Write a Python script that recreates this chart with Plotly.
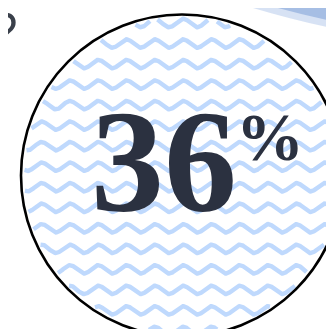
import numpy as np
import plotly.graph_objects as go

# ---- data ----
value = [36]
suffix = ["%"]
corner_mark = ["?"]

W, H = 334, 329
cx, cy, r = 174, 167.5, 161

# decorative wave pattern clipped to the circle
period = 28.3
amp = 4.2
row_gap = 20.53
row0 = 15.0
phase_x = 62.0

xs, ys = [], []
xgrid = np.arange(0, W + 1, 0.5)
y_row = row0
while y_row < H + 10:
    yv = y_row - amp * np.cos(2 * np.pi * (xgrid - phase_x) / period)
    inside = (xgrid - cx) ** 2 + (yv - cy) ** 2 <= (r - 3) ** 2
    for xv, yy, ok in zip(xgrid, yv, inside):
        if ok:
            xs.append(float(xv)); ys.append(float(yy))
        else:
            if xs and xs[-1] is not None:
                xs.append(None); ys.append(None)
    xs.append(None); ys.append(None)
    y_row += row_gap

fig = go.Figure()
fig.add_trace(go.Scatter(x=xs, y=ys, mode="lines",
                         line=dict(color="#BFD9FD", width=4.4),
                         hoverinfo="skip", showlegend=False))

# top-right blurred blue stroke
fig.add_shape(type="path", path="M 245 0 L 334 0 L 334 22 Q 292 14 245 0 Z",
              fillcolor="rgba(175,198,234,0.5)", line=dict(width=0), layer="below")
fig.add_shape(type="path", path="M 270 0 L 334 0 L 334 15 Q 303 9 270 0 Z",
              fillcolor="rgba(140,170,220,0.65)", line=dict(width=0), layer="below")

fig.add_shape(type="circle", x0=cx - r, x1=cx + r, y0=cy - r, y1=cy + r,
              line=dict(color="#000000", width=2.6), fillcolor="rgba(0,0,0,0)")

fig.add_annotation(x=156, y=154, text=str(value[0]), showarrow=False,
                   xanchor="center", yanchor="middle",
                   font=dict(family="Liberation Serif", size=146, color="#2B3140", weight="bold"))
fig.add_annotation(x=262, y=129, text=suffix[0], showarrow=False,
                   xanchor="center", yanchor="middle",
                   font=dict(family="Liberation Serif", size=68, color="#2B3140", weight="bold"))
fig.add_annotation(x=11, y=24, text=corner_mark[0], showarrow=False,
                   xanchor="right", yanchor="middle",
                   font=dict(family="Open Sans", size=56, color="#3A404B"))

fig.update_xaxes(range=[0, W], visible=False, fixedrange=True)
fig.update_yaxes(range=[H, 0], visible=False, fixedrange=True)
fig.update_layout(width=W, height=H, margin=dict(l=0, r=0, t=0, b=0),
                  paper_bgcolor="white", plot_bgcolor="white")
fig.write_html("out.html")
